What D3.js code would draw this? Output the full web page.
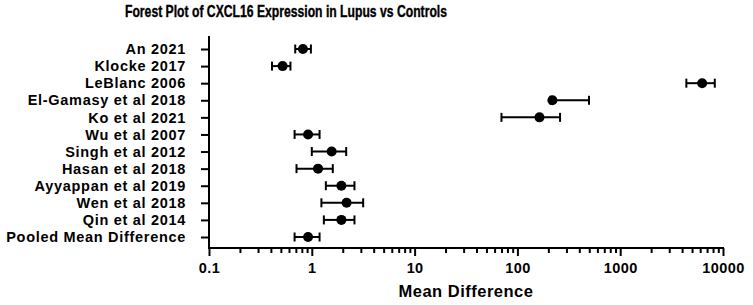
<!DOCTYPE html>
<html>
<head>
<meta charset="utf-8">
<script src="https://cdn.jsdelivr.net/npm/d3@7"></script>
<style>
  body { margin: 0; background: #fff; }
  svg { display: block; font-family: "Liberation Sans", Arial, sans-serif; }
</style>
</head>
<body>
<svg id="forest-svg" width="753" height="305"></svg>
<script>
// study labels, top to bottom
const studies = ['An 2021', 'Klocke 2017', 'LeBlanc 2006', 'El-Gamasy et al 2018', 'Ko et al 2021',
  'Wu et al 2007', 'Singh et al 2012', 'Hasan et al 2018', 'Ayyappan et al 2019', 'Wen et al 2018',
  'Qin et al 2014', 'Pooled Mean Difference'];
// mean difference and CI bounds
const meanDiff = [0.82, 0.52, 6270, 219, 164, 0.92, 1.56, 1.15, 1.94, 2.18, 1.94, 0.92];
const ciLow    = [0.69, 0.41, 4400, 210, 70, 0.68, 1.0, 0.71, 1.37, 1.24, 1.31, 0.68];
const ciHigh   = [0.98, 0.62, 8320, 497, 260, 1.19, 2.16, 1.60, 2.60, 3.16, 2.60, 1.19];
const xTicks = [0.1, 1, 10, 100, 1000, 10000];

const size = { width: 753, height: 305 };
const margin = { left: 209, right: 30, top: 36, bottom: 57 };

const rows = studies.map((s, i) => ({ study: s, mean: meanDiff[i], lo: ciLow[i], hi: ciHigh[i] }));

const svg = d3.select('#forest-svg');

const xScale = d3.scaleLog()
  .domain([0.1, 10000])
  .range([margin.left, size.width - margin.right]);

const yScale = d3.scalePoint()
  .domain(studies)
  .range([margin.top + 13, size.height - margin.bottom - 11]);

// title (narrow bold face in the original)
svg.append('text')
  .attr('x', 286)
  .attr('y', 17)
  .attr('text-anchor', 'middle')
  .attr('textLength', 322)
  .attr('lengthAdjust', 'spacingAndGlyphs')
  .attr('stroke', '#000')
  .attr('stroke-width', 0.4)
  .style('font-size', '17px')
  .style('font-weight', 'bold')
  .text('Forest Plot of CXCL16 Expression in Lupus vs Controls');

// y axis
const yAxis = svg.append('g')
  .attr('transform', `translate(${margin.left},0)`)
  .call(d3.axisLeft(yScale).tickSize(8).tickPadding(15).tickSizeOuter(0));
yAxis.select('.domain').attr('d', `M0,${margin.top}V${size.height - margin.bottom}`);
yAxis.selectAll('line, path').attr('stroke', '#000').attr('stroke-width', 2);
yAxis.selectAll('text')
  .attr('fill', '#000')
  .style('font-size', '14.5px')
  .style('font-weight', 'bold')
  .style('letter-spacing', '0.7px')
  .attr('font-family', null);

// x axis with minor ticks
const minorTicks = [];
for (let d = 0.1; d < 10000; d *= 10) {
  for (let k = 2; k <= 9; k++) minorTicks.push(d * k);
}
const xAxisY = size.height - margin.bottom;
const xMinor = svg.append('g')
  .attr('transform', `translate(0,${xAxisY})`)
  .call(d3.axisBottom(xScale).tickValues(minorTicks).tickSize(5).tickFormat(''));
xMinor.select('.domain').remove();
xMinor.selectAll('line').attr('stroke', '#000').attr('stroke-width', 2);

const xAxis = svg.append('g')
  .attr('transform', `translate(0,${xAxisY})`)
  .call(d3.axisBottom(xScale).tickValues(xTicks).tickSize(8).tickSizeOuter(0).tickPadding(7)
    .tickFormat(d => String(d)));
xAxis.select('.domain').attr('d', `M${margin.left - 1},0H${size.width - margin.right + 1}`);
xAxis.selectAll('line, path').attr('stroke', '#000').attr('stroke-width', 2);
xAxis.selectAll('text')
  .attr('fill', '#000')
  .style('font-size', '14.5px')
  .style('font-weight', 'bold')
  .style('letter-spacing', '0.4px')
  .attr('font-family', null);

// x label
svg.append('text')
  .attr('x', (margin.left + size.width - margin.right) / 2)
  .attr('y', 297)
  .attr('text-anchor', 'middle')
  .style('font-size', '16.5px')
  .style('font-weight', 'bold')
  .style('letter-spacing', '0.5px')
  .text('Mean Difference');

// error bars
const marks = svg.append('g');
marks.selectAll('line.ci')
  .data(rows)
  .join('line')
  .attr('class', 'ci')
  .attr('x1', d => xScale(d.lo))
  .attr('x2', d => xScale(d.hi))
  .attr('y1', d => yScale(d.study))
  .attr('y2', d => yScale(d.study))
  .attr('stroke', '#000')
  .attr('stroke-width', 2);

['lo', 'hi'].forEach(k => {
  marks.selectAll(`line.cap-${k}`)
    .data(rows)
    .join('line')
    .attr('class', `cap-${k}`)
    .attr('x1', d => xScale(d[k]))
    .attr('x2', d => xScale(d[k]))
    .attr('y1', d => yScale(d.study) - 4.5)
    .attr('y2', d => yScale(d.study) + 4.5)
    .attr('stroke', '#000')
    .attr('stroke-width', 2);
});

marks.selectAll('circle')
  .data(rows)
  .join('circle')
  .attr('cx', d => xScale(d.mean))
  .attr('cy', d => yScale(d.study))
  .attr('r', 5)
  .attr('fill', '#000');
</script>
</body>
</html>
